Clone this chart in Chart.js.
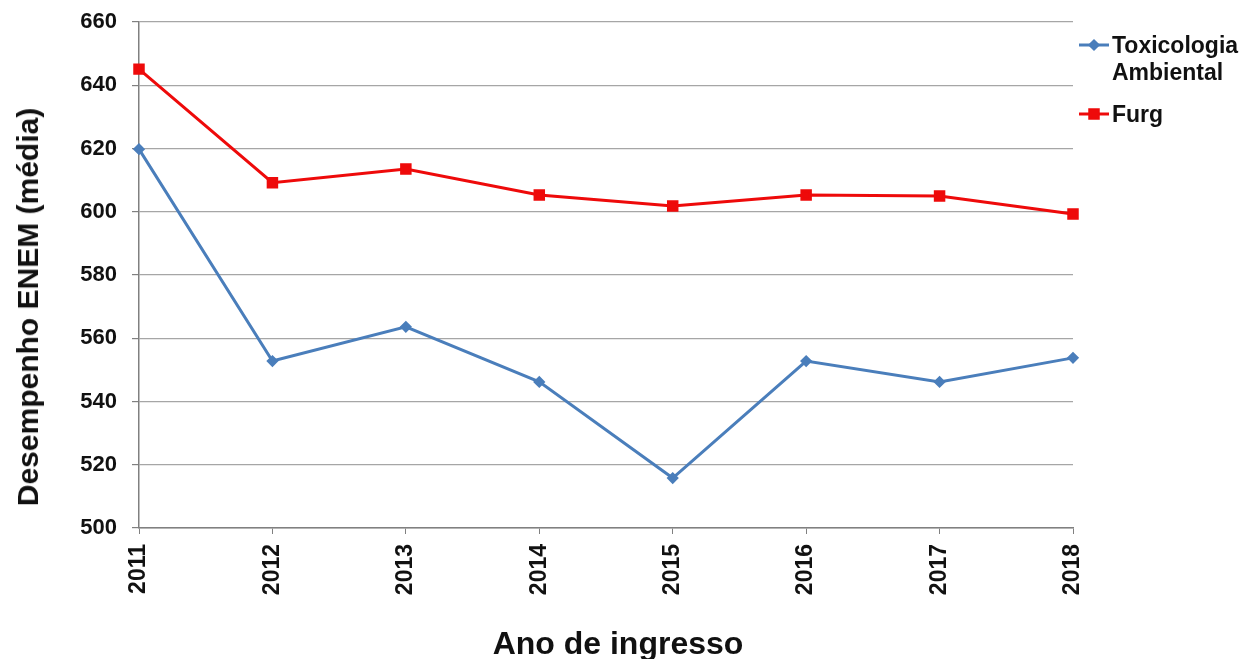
<!DOCTYPE html>
<html>
<head>
<meta charset="utf-8">
<script src="https://cdn.jsdelivr.net/npm/chart.js@4"></script>
<style>
  html, body { margin: 0; padding: 0; background: #fff; }
  #wrap { position: relative; width: 1244px; height: 659px; font-family: "Liberation Sans", Arial, sans-serif; font-weight: bold; color: #111; }
  #legend { position: absolute; left: 1078px; top: 32px; font-size: 23px; }
  .item { display: flex; align-items: flex-start; margin-bottom: 15px; line-height: 27px; }
  .item canvas { margin-top: 3px; margin-right: 2px; }
  #xtitle { position: absolute; left: 618px; top: 643px; transform: translate(-50%, -50%); font-size: 32px; white-space: nowrap; }
  #ytitle { position: absolute; left: 28px; top: 307px; transform: translate(-50%, -50%) rotate(-90deg); font-size: 30px; white-space: nowrap; }
</style>
</head>
<body>
<div id="wrap">
  <canvas id="chart" width="1244" height="659"></canvas>
  <div id="ytitle">Desempenho ENEM (média)</div>
  <div id="xtitle">Ano de ingresso</div>
  <div id="legend">
    <div class="item"><canvas id="lg0" width="32" height="20"></canvas><div>Toxicologia<br>Ambiental</div></div>
    <div class="item"><canvas id="lg1" width="32" height="20"></canvas><div>Furg</div></div>
  </div>
</div>
<script>
const years = ['2011', '2012', '2013', '2014', '2015', '2016', '2017', '2018']
const toxicologia = [619.8, 552.8, 563.6, 546.2, 515.8, 552.8, 546.2, 553.8]
const furg = [645.1, 609.2, 613.5, 605.3, 601.8, 605.3, 605.0, 599.3]
const yTicks = [500, 520, 540, 560, 580, 600, 620, 640, 660]

const blue = '#4a7ebb'
const red = '#ee0a0a'
const font = "'Liberation Sans', Arial, sans-serif"

const ctx = document.getElementById('chart').getContext('2d')
new Chart(ctx, {
  type: 'line',
  data: {
    labels: years,
    datasets: [
      {
        label: 'Toxicologia Ambiental',
        data: toxicologia,
        borderColor: blue,
        backgroundColor: blue,
        borderWidth: 3,
        pointStyle: 'rectRot',
        pointRadius: 4,
        tension: 0
      },
      {
        label: 'Furg',
        data: furg,
        borderColor: red,
        backgroundColor: red,
        borderWidth: 3,
        pointStyle: 'rect',
        pointRadius: 6,
        tension: 0
      }
    ]
  },
  options: {
    responsive: false,
    animation: false,
    layout: { padding: { left: 0, right: 171, top: 22, bottom: 0 } },
    plugins: {
      legend: { display: false },
      tooltip: { enabled: false }
    },
    scales: {
      x: {
        offset: false,
        afterFit: s => { s.height = 131; s.paddingLeft = 0; s.paddingRight = 0 },
        grid: { display: true, drawOnChartArea: false, drawTicks: true, tickLength: 6, color: '#808080' },
        border: { color: '#808080', width: 1.5 },
        ticks: {
          maxRotation: 90, minRotation: 90,
          font: { family: font, size: 23, weight: 'bold' },
          color: '#111',
          padding: 10
        }
      },
      y: {
        min: 500, max: 660,
        afterBuildTicks: axis => { axis.ticks = yTicks.map(v => ({ value: v })) },
        afterFit: s => { s.width = 139; s.paddingTop = 0; s.paddingBottom = 0 },
        grid: { color: '#a6a6a6', lineWidth: 1.2, tickLength: 7, tickColor: '#808080' },
        border: { color: '#808080', width: 1.5 },
        ticks: {
          font: { family: font, size: 22, weight: 'bold' },
          color: '#111',
          padding: 15
        }
      }
    }
  }
})

function legendSample(id, color, style, r) {
  const c = document.getElementById(id).getContext('2d')
  c.strokeStyle = color
  c.lineWidth = 3
  c.beginPath()
  c.moveTo(1, 10)
  c.lineTo(31, 10)
  c.stroke()
  Chart.helpers.drawPoint(c, { pointStyle: style, radius: r, borderWidth: 1, rotation: 0 }, 16, 10)
  c.fillStyle = color
  c.fill()
}
legendSample('lg0', blue, 'rectRot', 4)
legendSample('lg1', red, 'rect', 6)
</script>
</body>
</html>
